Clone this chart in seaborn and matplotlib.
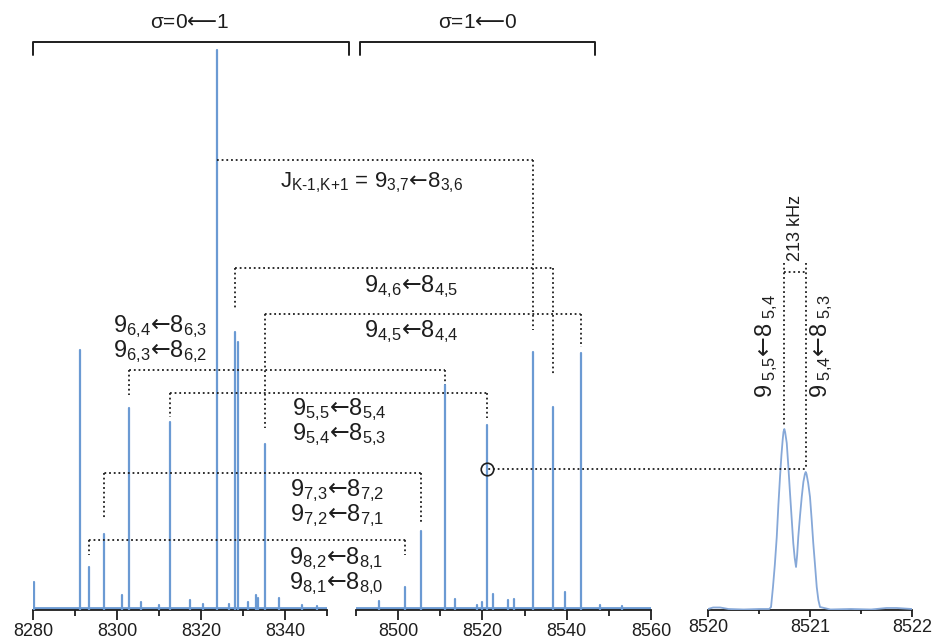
import matplotlib
matplotlib.use("Agg")
import matplotlib.pyplot as plt
import matplotlib.ticker as mticker
from matplotlib.patches import ConnectionPatch
import numpy as np
import pandas as pd
import seaborn as sns

# ---------------- data ----------------
# sigma = 0 <- 1 region (MHz, intensity in arbitrary units)
low_freq = [8280.2, 8291.2, 8293.3, 8297.0, 8301.2, 8302.9, 8305.7, 8310.0, 8312.6,
            8317.4, 8320.4, 8323.8, 8326.6, 8328.1, 8328.8, 8331.2, 8333.1, 8333.6,
            8335.2, 8338.6, 8344.0, 8347.5]
low_int = [28, 260, 43, 76, 15, 202, 8, 5, 188,
           10, 6, 560, 6, 278, 268, 8, 15, 12,
           166, 12, 5, 4]
# sigma = 1 <- 0 region
high_freq = [8495.5, 8501.7, 8505.5, 8511.1, 8513.6, 8518.6, 8519.8, 8521.0, 8522.6,
             8526.0, 8527.6, 8532.0, 8536.7, 8539.5, 8543.3, 8548.0, 8553.0]
high_int = [9, 23, 79, 225, 11, 5, 8, 185, 16,
            10, 11, 258, 203, 18, 257, 5, 4]
# zoom on the 9(5,5)<-8(5,4) / 9(5,4)<-8(5,3) doublet
inset_freq = [8520.00, 8520.05, 8520.12, 8520.20, 8520.35, 8520.50, 8520.60, 8520.618,
              8520.637, 8520.655, 8520.674, 8520.690, 8520.706, 8520.720, 8520.732, 8520.740,
              8520.748, 8520.756, 8520.772, 8520.788, 8520.804, 8520.820, 8520.836, 8520.850,
              8520.863, 8520.874, 8520.885, 8520.902, 8520.919, 8520.935, 8520.950, 8520.958,
              8520.966, 8520.982, 8521.000, 8521.016, 8521.032, 8521.050, 8521.066, 8521.082,
              8521.098, 8521.20, 8521.40, 8521.60, 8521.75, 8521.85, 8522.00]
inset_int = [1, 2.5, 2.5, 1, 0.5, 1, 1, 3,
             23, 45, 73, 105, 133, 155, 170, 178,
             181, 178, 167, 143, 117, 92, 67, 52,
             43, 55, 73, 94, 113, 128, 136, 138,
             136, 127, 113, 91, 67, 44, 23, 10,
             3, 0.5, 1, 0.5, 2, 2, 1]

low_ticks = [8280, 8300, 8320, 8340]
high_ticks = [8500, 8520, 8540, 8560]
inset_ticks = [8520, 8521, 8522]

BLUE = "#6b9ad3"
INK = "#1e1e1e"

sns.set_theme(style="white")
plt.rcParams["font.family"] = ["Liberation Sans", "DejaVu Sans"]
plt.rcParams["mathtext.fontset"] = "custom"
plt.rcParams["mathtext.rm"] = "Liberation Sans"
plt.rcParams["mathtext.it"] = "Liberation Sans"
plt.rcParams["mathtext.bf"] = "Liberation Sans:bold"
plt.rcParams["mathtext.sf"] = "DejaVu Sans"

W, H = 938, 640
fig = plt.figure(figsize=(W / 100, H / 100), dpi=100)


def axrect(x0, x1, ybot=610, ytop=10):
    return [x0 / W, (H - ybot) / H, (x1 - x0) / W, (ybot - ytop) / H]


ax1 = fig.add_axes(axrect(33, 327))
ax2 = fig.add_axes(axrect(356, 651))
ax3 = fig.add_axes(axrect(708, 912))


def sticks(freqs, ints):
    rows = []
    for i, (f, h) in enumerate(zip(freqs, ints)):
        rows.append(dict(peak=i, freq=f, inten=0.0))
        rows.append(dict(peak=i, freq=f, inten=h))
    return pd.DataFrame(rows)


sns.lineplot(data=sticks(low_freq, low_int), x="freq", y="inten", units="peak",
             estimator=None, sort=False, color=BLUE, lw=1.6, ax=ax1, zorder=3)
sns.lineplot(data=sticks(high_freq, high_int), x="freq", y="inten", units="peak",
             estimator=None, sort=False, color=BLUE, lw=1.6, ax=ax2, zorder=3)
sns.lineplot(data=pd.DataFrame(dict(freq=inset_freq, inten=inset_int)), x="freq", y="inten",
             estimator=None, sort=False, color="#86a8d8", lw=1.3, ax=ax3, zorder=3)

for ax, lo, hi in [(ax1, 8280, 8350), (ax2, 8490, 8560), (ax3, 8520, 8522)]:
    ax.set_xlim(lo, hi)
    ax.set_ylim(0, 600)
    ax.set_facecolor("none")
    ax.set_xlabel("")
    ax.set_ylabel("")
    ax.set_yticks([])
    for s in ["left", "right", "top"]:
        ax.spines[s].set_visible(False)
    ax.spines["bottom"].set_color(INK)
    ax.spines["bottom"].set_linewidth(1.3)
    ax.tick_params(axis="x", which="both", bottom=True, direction="out", color=INK,
                   width=1.3, labelsize=13, labelcolor=INK, pad=1.5)
    ax.tick_params(axis="x", which="major", length=7.5)
    ax.tick_params(axis="x", which="minor", length=4.5)

ax1.axhline(2, color=BLUE, lw=2.0)
ax2.axhline(2, color=BLUE, lw=2.0)

ax1.set_xticks(low_ticks)
ax1.set_xticks([8290, 8310, 8330, 8350], minor=True)
ax2.set_xticks(high_ticks)
ax2.set_xticks([8490, 8510, 8530, 8550], minor=True)
ax3.set_xticks(inset_ticks)
ax3.set_xticks([8520.5, 8521.5], minor=True)
ax3.tick_params(axis="x", which="major", length=5)
ax3.tick_params(axis="x", which="minor", length=3)
for ax in (ax1, ax2, ax3):
    ax.xaxis.set_major_formatter(mticker.FormatStrFormatter("%d"))

# ---------------- annotations ----------------
DOT = dict(color=INK, lw=1.3, linestyle=(0, (1, 1.6)), dash_capstyle="butt", clip_on=False,
           zorder=1)
DOTP = dict(color=INK, lw=1.3, linestyle=(0, (1, 1.6)), capstyle="butt")


def bracket(fA, botA, fB, botB, level, axA=ax1, axB=ax2):
    axA.plot([fA, fA], [level, botA], **DOT)
    axB.plot([fB, fB], [level, botB], **DOT)
    con = ConnectionPatch(xyA=(fA, level), coordsA=axA.transData,
                          xyB=(fB, level), coordsB=axB.transData, **DOTP)
    fig.add_artist(con)


bracket(8323.8, 395, 8532.0, 280, 450)   # 9_3,7 <- 8_3,6
bracket(8328.1, 302, 8536.7, 235, 342)   # 9_4,6 <- 8_4,5
bracket(8335.2, 182, 8543.3, 263, 296)   # 9_4,5 <- 8_4,4
bracket(8302.9, 215, 8511.1, 225, 240)   # K=6
bracket(8312.6, 193, 8521.0, 192, 217)   # K=5
bracket(8297.0, 92, 8505.5, 88, 137)     # K=7
bracket(8293.3, 55, 8501.7, 55, 70)      # K=8

# circle on the K=5 line and link to the inset
ax2.plot([8521.0], [141], marker="o", ms=9, mfc="none", mec=INK, mew=1.2,
         clip_on=False, zorder=5)
link = ConnectionPatch(xyA=(8521.4, 141), coordsA=ax2.transData,
                       xyB=(8520.958, 141), coordsB=ax3.transData, **DOTP)
fig.add_artist(link)

# inset bracket (213 kHz)
ax3.plot([8520.748, 8520.748], [347, 183], **DOT)
ax3.plot([8520.958, 8520.958], [347, 141], **DOT)
ax3.plot([8520.748, 8520.958], [338, 338], **DOT)


def trans(up, lo, sp=""):
    return (r"$9_{\text{%s%s}}\mathsf{←}8_{\text{%s%s}}$" % (sp, up, sp, lo))


def pair(a, b):
    return trans(*a) + "\n" + trans(*b)


FS = 17
TXT = dict(ha="center", va="center", fontsize=FS, color=INK)
TWO = dict(ha="center", va="center", multialignment="center", fontsize=FS, color=INK,
           linespacing=0.88)
ax1.text(8360.7, 427, r"$\mathrm{J}_{\text{K-1,K+1}}\text{ = }9_{\text{3,7}}\mathsf{←}8_{\text{3,6}}$",
         ha="center", va="center", fontsize=16, color=INK)
ax1.text(8370.1, 323, trans("4,6", "4,5"), **TXT)
ax1.text(8370.1, 278, trans("4,5", "4,4"), **TXT)
ax1.text(8310.2, 271, pair(("6,4", "6,3"), ("6,3", "6,2")), **TWO)
ax1.text(8353.0, 188, pair(("5,5", "5,4"), ("5,4", "5,3")), **TWO)
ax1.text(8352.5, 107, pair(("7,3", "7,2"), ("7,2", "7,1")), **TWO)
ax1.text(8352.3, 39, pair(("8,2", "8,1"), ("8,1", "8,0")), **TWO)

ax3.text(8520.574, 264, trans("5,5", "5,4", " "), rotation=90, **TXT)
ax3.text(8521.113, 264, trans("5,4", "5,3", " "), rotation=90, **TXT)
ax3.text(8520.858, 382, "213 kHz", rotation=90, ha="center", va="center", fontsize=13, color=INK)

# top brackets for the two torsional components
ax1.plot([8280, 8280, 8355.2, 8355.2], [555, 568, 568, 555], color=INK, lw=1.4, clip_on=False)
ax2.plot([8490.95, 8490.95, 8546.7, 8546.7], [555, 568, 568, 555], color=INK, lw=1.4, clip_on=False)
ax1.text(8317.4, 588, r"σ=0$\mathsf{⟵}$1", ha="center", va="center", fontsize=15, color=INK)
ax2.text(8518.8, 588, r"σ=1$\mathsf{⟵}$0", ha="center", va="center", fontsize=15, color=INK)

fig.savefig("out.png", dpi=100, facecolor="white")
